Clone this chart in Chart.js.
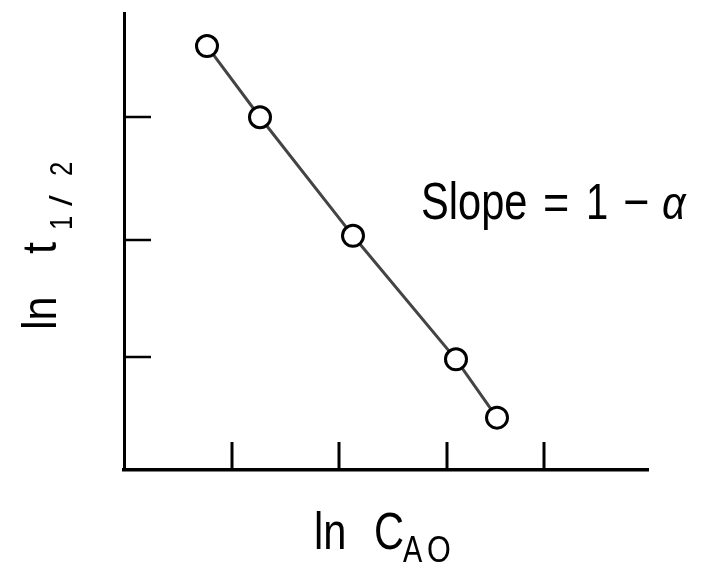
<!DOCTYPE html>
<html>
<head>
  <title>ln t1/2 vs ln CAO</title>
  <script src="https://cdn.jsdelivr.net/npm/chart.js"></script>
  <style>
    body { margin: 0; background: #fff; }
  </style>
</head>
<body>
  <canvas id="chartHalfLife" width="702" height="563"></canvas>

  <script>
    // values (arbitrary log units)
    const lnCA0 = [0.83, 1.36, 2.29, 3.32, 3.73];
    const lnHalfTime = [4.29, 3.57, 2.37, 1.12, 0.53];
    const xTickValues = [1.08, 2.15, 3.23, 4.20];
    const yTickValues = [1.14, 2.33, 3.57];

    const FONT = "'Liberation Sans', Arial, sans-serif";

    // draws the inward tick marks and the hand-lettered labels
    const decorations = {
      id: 'decorations',
      afterDraw(chart) {
        const ctx = chart.ctx;
        const xs = chart.scales.x, ys = chart.scales.y;
        const area = chart.chartArea;

        ctx.save();
        ctx.strokeStyle = '#000';
        ctx.lineWidth = 3;
        xTickValues.forEach(v => {
          const px = Math.round(xs.getPixelForValue(v));
          ctx.beginPath();
          ctx.moveTo(px, area.bottom);
          ctx.lineTo(px, area.bottom - 28);
          ctx.stroke();
        });
        ctx.lineWidth = 2.5;
        yTickValues.forEach(v => {
          const py = Math.round(ys.getPixelForValue(v));
          ctx.beginPath();
          ctx.moveTo(area.left, py);
          ctx.lineTo(area.left + 27, py);
          ctx.stroke();
        });

        ctx.fillStyle = '#000';
        ctx.textBaseline = 'alphabetic';
        const piece = (text, x, y, size, sx, style) => {
          ctx.save();
          ctx.translate(x, y);
          ctx.scale(sx, 1);
          ctx.font = (style || '') + ' ' + size + 'px ' + FONT;
          ctx.fillText(text, 0, 0);
          ctx.restore();
        };

        // x axis title: ln C_AO
        piece('ln', 314, 549, 52, 0.8);
        piece('C', 374, 549, 52, 0.8);
        piece('A', 403, 562, 36, 0.8);
        piece('O', 427, 562, 36, 0.85);

        // annotation: Slope = 1 - alpha
        piece('Slope', 421, 219, 52, 0.8);
        piece('=', 543, 219, 50, 0.9);
        piece('1', 586, 219, 50, 0.8);
        piece('\u2212', 623, 219, 50, 0.9);
        piece('\u03b1', 662, 219, 46, 0.9, 'italic');

        // y axis title: ln t_1/2 (rotated)
        ctx.save();
        ctx.translate(56, 330);
        ctx.rotate(-Math.PI / 2);
        piece('ln', 0, 0, 48, 0.9);
        piece('t', 76, 0, 48, 0.9);
        piece('1', 100, 16, 32, 0.8);
        piece('/', 124, 16, 32, 1.2);
        piece('2', 154, 16, 32, 0.8);
        ctx.restore();

        ctx.restore();
      }
    };

    const ctx = document.getElementById('chartHalfLife').getContext('2d');
    new Chart(ctx, {
      type: 'scatter',
      data: {
        datasets: [{
          data: lnCA0.map((x, i) => ({ x: x, y: lnHalfTime[i] })),
          showLine: true,
          borderColor: '#444',
          borderWidth: 3,
          pointRadius: 10.5,
          pointHoverRadius: 10.5,
          pointBorderWidth: 3,
          pointBorderColor: '#000',
          pointBackgroundColor: '#fff'
        }]
      },
      options: {
        responsive: false,
        animation: false,
        layout: { padding: { left: 124, top: 8, right: 54, bottom: 93 } },
        plugins: {
          legend: { display: false },
          tooltip: { enabled: false }
        },
        scales: {
          x: {
            type: 'linear',
            min: 0,
            max: 5.24,
            ticks: { display: false },
            grid: { display: false, drawTicks: false },
            border: { display: true, color: '#000', width: 3.5 }
          },
          y: {
            type: 'linear',
            min: 0,
            max: 4.62,
            ticks: { display: false },
            grid: { display: false, drawTicks: false },
            border: { display: true, color: '#000', width: 3 }
          }
        }
      },
      plugins: [decorations]
    });
  </script>
</body>
</html>
